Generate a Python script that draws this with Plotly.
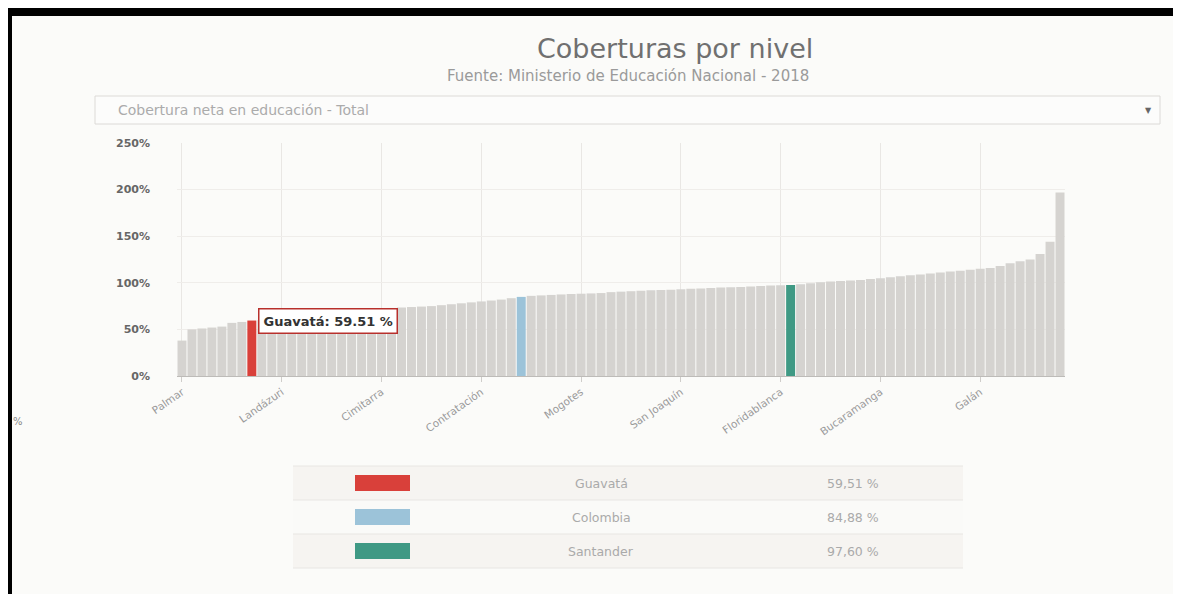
import plotly.graph_objects as go

# ---------------- data ----------------
categories = [
    "Palmar", "California", "Jordán", "Cepitá", "Enciso", "Guapotá", "Chima", "Guavatá",
    "Santa Helena del Opón", "El Guacamayo", "Landázuri", "Carcasí", "Macaravita", "Molagavita",
    "Coromoro", "Hato", "Onzaga", "Güepsa", "La Paz", "Páramo", "Cimitarra", "El Peñón",
    "Gámbita", "Albania", "Aratoca", "Confines", "Chipatá", "Encino", "Vetas", "San Benito",
    "Contratación", "Charta", "Guaca", "Santa Bárbara", "Colombia", "Suratá", "Jesús María",
    "Bolívar", "Cabrera", "Puerto Parra", "Mogotes", "Florián", "Simacota", "Sucre",
    "La Belleza", "El Playón", "Tona", "San Miguel", "Concepción", "Valle de San José",
    "San Joaquín", "Betulia", "Capitanejo", "Matanza", "Ocamonte", "Palmas del Socorro",
    "Guadalupe", "Suaita", "Cerrito", "Pinchote", "Floridablanca", "Santander", "Los Santos",
    "Rionegro", "Puerto Wilches", "Sabana de Torres", "Lebrija", "El Carmen de Chucurí",
    "Charalá", "Zapatoca", "Bucaramanga", "San Vicente de Chucurí", "Girón", "Piedecuesta",
    "Aguada", "Villanueva", "Curití", "Oiba", "Barichara", "San José de Miranda", "Galán",
    "Barrancabermeja", "Puente Nacional", "Málaga", "Vélez", "Barbosa", "San Andrés",
    "Socorro", "San Gil",
]
values = [
    38, 50, 51, 52, 53, 57, 58, 59.51,
    60, 61, 62, 63, 64, 65,
    66, 67, 68, 69, 70, 71, 72, 73,
    73.5, 74, 74.5, 75, 76, 77, 78, 79,
    80, 81, 82, 83.5, 84.88, 86, 86.5,
    87, 87.5, 88, 88.3, 88.6, 89, 90,
    90.5, 91, 91.5, 92, 92.3, 92.6,
    93, 93.5, 94, 94.5, 95, 95.3,
    95.6, 96, 96.5, 97, 97.3, 97.60, 98.5,
    99.5, 100.5, 101.5, 102, 102.5,
    103, 104, 105, 106, 107, 108,
    109, 110, 111, 112, 113, 114, 115,
    116, 118, 121, 123, 125, 131,
    144, 197,
]
highlight_names = ["Guavatá", "Colombia", "Santander"]
highlight_labels = ["59,51 %", "84,88 %", "97,60 %"]
highlight_colors = ["#d9403a", "#9cc3d9", "#3f9984"]
tick_labels = categories[::10]
y_ticks = [0, 50, 100, 150, 200, 250]

# ---------------- geometry helpers (screen pixels -> paper) ----------------
OFF = 8                      # page body margin
W, H = 1181 - OFF, 594 - OFF # figure size so it fits the window
L, R, T, B = 177 - OFF, 1065 - OFF, 143 - OFF, 376 - OFF


def xp(px):
    return (px - OFF - L) / (R - L)


def yp(py):
    return (B - (py - OFF)) / (B - T)


BG = "#fbfbf9"
bar_gray = "#d5d3d0"
hl = dict(zip(highlight_names, highlight_colors))
colors = [hl.get(c, bar_gray) for c in categories]

fig = go.Figure()
fig.add_trace(go.Bar(
    x=categories, y=values, marker=dict(color=colors, line=dict(width=0)),
    hoverinfo="x+y", showlegend=False,
))

fig.update_layout(
    width=W, height=H,
    margin=dict(l=L, r=W - R, t=T, b=H - B, pad=0),
    paper_bgcolor=BG, plot_bgcolor=BG,
    bargap=0.1,
    font=dict(family="DejaVu Sans", color="#777"),
    xaxis=dict(
        type="category", range=[-0.5, len(categories) - 0.5],
        tickmode="array", tickvals=tick_labels, ticktext=tick_labels,
        tickangle=-35, tickfont=dict(size=10.5, color="#999", family="DejaVu Sans"),
        showgrid=True, gridcolor="#e9e7e4", gridwidth=1,
        ticks="outside", ticklen=5, tickcolor="#cfcdca",
        showline=True, linecolor="#bdbbb8", linewidth=1,
        zeroline=False, fixedrange=True,
    ),
    yaxis=dict(
        range=[0, 250], tickvals=y_ticks,
        ticktext=[f"{v}%" for v in y_ticks],
        tickfont=dict(size=11, color="#666", family="DejaVu Sans", weight="bold"),
        showgrid=True, gridcolor="#efedea", gridwidth=1,
        zeroline=False, ticklabelstandoff=26, fixedrange=True,
    ),
)

shapes = []
annotations = []

# screenshot frame (black bands)
shapes.append(dict(type="rect", xref="paper", yref="paper", x0=xp(8), x1=xp(1181), y0=yp(16), y1=yp(8),
                   fillcolor="black", line=dict(width=0), layer="above"))
shapes.append(dict(type="rect", xref="paper", yref="paper", x0=xp(8), x1=xp(12), y0=yp(594), y1=yp(8),
                   fillcolor="black", line=dict(width=0), layer="above"))

# title / subtitle
annotations.append(dict(text="Coberturas por nivel", xref="paper", yref="paper", x=xp(675), y=yp(48),
                        showarrow=False, font=dict(size=27, color="#707070", family="DejaVu Sans"),
                        xanchor="center", yanchor="middle"))
annotations.append(dict(text="Fuente: Ministerio de Educación Nacional - 2018", xref="paper", yref="paper",
                        x=xp(628), y=yp(76), showarrow=False,
                        font=dict(size=15, color="#9a9a9a", family="DejaVu Sans"),
                        xanchor="center", yanchor="middle"))

# dropdown
shapes.append(dict(type="rect", xref="paper", yref="paper", x0=xp(95), x1=xp(1160), y0=yp(124), y1=yp(96),
                   fillcolor="#fcfcfb", line=dict(color="#dcdad7", width=1)))
annotations.append(dict(text="Cobertura neta en educación - Total", xref="paper", yref="paper",
                        x=xp(116), y=yp(110), showarrow=False, xanchor="left", yanchor="middle",
                        font=dict(size=14, color="#ababab", family="DejaVu Sans")))
annotations.append(dict(text="▼", xref="paper", yref="paper", x=xp(1148), y=yp(111), showarrow=False,
                        xanchor="center", yanchor="middle", font=dict(size=8, color="#666")))

# stray axis fragment at left
annotations.append(dict(text="%", xref="paper", yref="paper", x=xp(18), y=yp(421), showarrow=False,
                        xanchor="center", yanchor="middle", font=dict(size=10, color="#888")))

# tooltip
g_val = values[categories.index("Guavatá")]
annotations.append(dict(
    text=f"<b>Guavatá: {g_val:.2f} %</b>", x="Guavatá", y=g_val, xref="x", yref="y",
    showarrow=False, xanchor="left", yanchor="middle", xshift=6,
    font=dict(size=13, color="#333", family="DejaVu Sans"),
    bgcolor="white", bordercolor="#b8302c", borderwidth=1.5, borderpad=4,
))

# legend table
row_h = 34
row_top = 466
for i, (name, lab, col) in enumerate(zip(highlight_names, highlight_labels, highlight_colors)):
    y0 = row_top + i * row_h
    yc = y0 + row_h / 2
    shapes.append(dict(type="rect", xref="paper", yref="paper", x0=xp(293), x1=xp(963),
                       y0=yp(y0 + row_h), y1=yp(y0),
                       fillcolor="#f6f4f1" if i % 2 == 0 else "#fafaf8",
                       line=dict(width=0), layer="below"))
    shapes.append(dict(type="line", xref="paper", yref="paper", x0=xp(293), x1=xp(963),
                       y0=yp(y0), y1=yp(y0), line=dict(color="#e8e6e3", width=1)))
    shapes.append(dict(type="rect", xref="paper", yref="paper", x0=xp(355), x1=xp(410),
                       y0=yp(yc + 8), y1=yp(yc - 8), fillcolor=col, line=dict(width=0)))
    annotations.append(dict(text=name, xref="paper", yref="paper", x=xp(601), y=yp(yc),
                            showarrow=False, xanchor="center", yanchor="middle",
                            font=dict(size=12.5, color="#aaaaaa", family="DejaVu Sans")))
    annotations.append(dict(text=lab, xref="paper", yref="paper", x=xp(853), y=yp(yc),
                            showarrow=False, xanchor="center", yanchor="middle",
                            font=dict(size=12.5, color="#aaaaaa", family="DejaVu Sans")))
shapes.append(dict(type="line", xref="paper", yref="paper", x0=xp(293), x1=xp(963),
                   y0=yp(row_top + 3 * row_h), y1=yp(row_top + 3 * row_h),
                   line=dict(color="#e8e6e3", width=1)))

fig.update_layout(shapes=shapes, annotations=annotations)
fig.write_html("out.html", config=dict(displayModeBar=False))
